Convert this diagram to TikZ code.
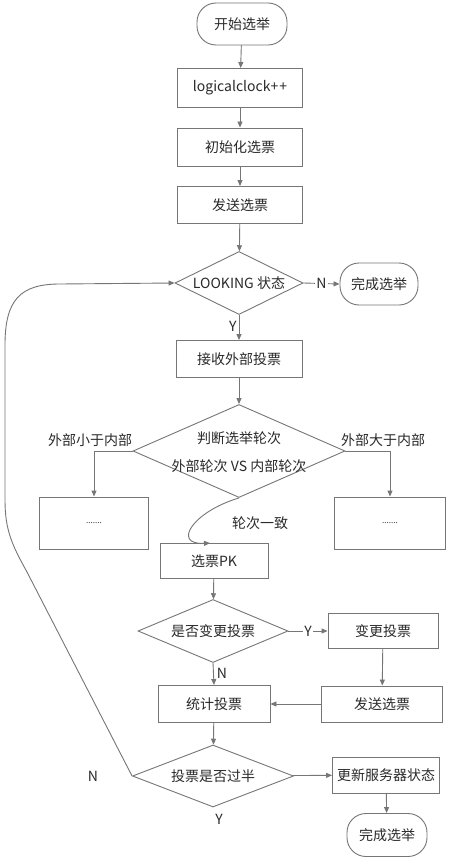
\documentclass[tikz,border=0pt]{standalone}
\usepackage{fontspec}
\setmainfont{Noto Sans CJK SC}
\usetikzlibrary{arrows.meta,shapes.geometric}
\definecolor{ln}{HTML}{767676}
\definecolor{tx}{HTML}{2A2A2A}
\begin{document}
\begin{tikzpicture}[x=1pt,y=-1pt,
  every node/.style={font=\fontsize{14}{16}\selectfont, text=tx},
  box/.style={draw=ln, line width=0.9pt, inner sep=0pt, fill=white},
  term/.style={box, rounded corners=19pt},
  decision/.style={box, diamond, aspect=2},
  flow/.style={draw=ln, line width=0.9pt, -{Triangle[length=6pt,width=5pt]}},
  tag/.style={fill=white, inner sep=1pt}
]
\useasboundingbox[fill=white] (0,0) rectangle (451,861);

% main column
\node[term, minimum width=90, minimum height=42] (start) at (242,24) {开始选举};
\node[box, minimum width=125, minimum height=39] (clk) at (240,88) {logicalclock+\kern1pt+};
\node[box, minimum width=125, minimum height=38] (init) at (240,147) {初始化选票};
\node[box, minimum width=125, minimum height=37] (send1) at (240,205) {发送选票};
\node[decision, minimum width=128, minimum height=63,
      label={center:LOOKING 状态}] (look) at (239,283) {};
\node[term, minimum width=78, minimum height=42] (done1) at (379,284) {完成选举};
\node[box, minimum width=126, minimum height=37] (recv) at (239,359) {接收外部投票};
\node[decision, minimum width=212, minimum height=93,
      label={[yshift=13pt]center:判断选举轮次},
      label={[yshift=-15pt]center:外部轮次 VS 内部轮次}] (judge) at (239,451) {};
\node[box, minimum width=109, minimum height=52, font=\footnotesize] (lbox) at (94,523) {.......};
\node[box, minimum width=111, minimum height=52, font=\footnotesize] (rbox) at (390,523) {.......};
\node[box, minimum width=108, minimum height=35] (pk) at (214,561) {选票PK};
\node[decision, minimum width=150, minimum height=63] (chg) at (213,631) {是否变更投票};
\node[box, minimum width=110, minimum height=35] (chgbox) at (383,631) {变更投票};
\node[box, minimum width=121, minimum height=36] (send2) at (382,704) {发送选票};
\node[box, minimum width=112, minimum height=37] (count) at (214,704) {统计投票};
\node[decision, minimum width=161, minimum height=62] (half) at (213,776) {投票是否过半};
\node[box, minimum width=107, minimum height=36] (update) at (386,775) {更新服务器状态};
\node[term, minimum width=80, minimum height=43] (done2) at (387,835) {完成选举};

% branch captions
\node (ltag) at (90,440) {外部小于内部};
\node (rtag) at (383,440) {外部大于内部};
\node (same) at (260,523) {轮次一致};
\node (yhalf) at (219,819) {Y};
\node (nloop) at (93,776) {N};

% connectors
\draw[flow] (start) -- (clk);
\draw[flow] (clk) -- (init);
\draw[flow] (init) -- (send1);
\draw[flow] (send1) -- (look);
\draw[flow] (look.east) -- node[tag] {N} (done1.west);
\draw[flow] (look.south) -- node[left, inner sep=2pt, pos=0.45] {Y} (recv.north);
\draw[flow] (recv) -- (judge);
\draw[flow] (judge.west) -| (lbox.north);
\draw[flow] (judge.east) -| (rbox.north);
\draw[flow] (judge.south) .. controls (192,512) and (172,545) .. ([xshift=-4pt]pk.north);
\draw[flow] (pk) -- (chg);
\draw[flow] (chg.east) -- node[tag] {Y} (chgbox.west);
\draw[flow] (chg.south) -- node[right, inner sep=3pt, pos=0.45] {N} (count.north);
\draw[flow] (chgbox) -- (send2);
\draw[flow] (send2) -- (count);
\draw[flow] (count) -- (half);
\draw[flow] (half) -- (update);
\draw[flow] (update) -- (done2);
\draw[flow] (half.west) -- (27,572) .. controls (12,545) and (5,530) .. (5,500)
  -- (5,345) .. controls (5,300) and (20,284) .. (60,284) -- (look.west);
\end{tikzpicture}
\end{document}
